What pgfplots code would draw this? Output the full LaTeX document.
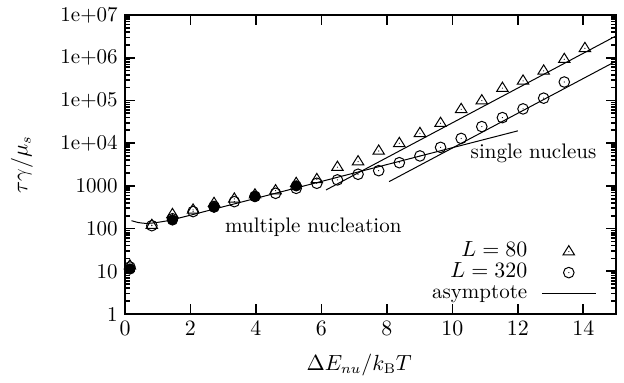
\documentclass[border=0pt]{standalone}
\usepackage{pgfplots}
\pgfplotsset{compat=1.18}
\pgfdeclareplotmark{dtri}{%
  \pgfpathmoveto{\pgfpoint{0pt}{3pt}}%
  \pgfpathlineto{\pgfpoint{2.85pt}{-1.6pt}}%
  \pgfpathlineto{\pgfpoint{-2.85pt}{-1.6pt}}%
  \pgfpathclose
  \pgfusepathqstroke
  \pgfpathcircle{\pgfpointorigin}{0.3pt}%
  \pgfusepathqfill
}
\pgfdeclareplotmark{dcirc}{%
  \pgfpathcircle{\pgfpointorigin}{2.65pt}%
  \pgfusepathqstroke
  \pgfpathcircle{\pgfpointorigin}{0.3pt}%
  \pgfusepathqfill
}
\pgfplotsset{
  markleg/.style={legend image code/.code={\draw[only marks, mark repeat=2, mark phase=2, ##1] plot coordinates {(0pt,0pt) (13.5pt,0pt) (27pt,0pt)};}},
  lineleg/.style={legend image code/.code={\draw[##1] (0pt,0pt) -- (27pt,0pt);}},
}
\begin{document}
\fontsize{10.5}{12.6}\selectfont
\begin{tikzpicture}
\path[use as bounding box] (-62.5pt,-34pt) rectangle (249.5pt,157pt);
\begin{axis}[
  scale only axis, width=245.5pt, height=149.5pt,
  at={(0,0)}, anchor=south west,
  xmin=0, xmax=15, ymode=log, ymin=1, ymax=1e7,
  xtick={0,2,...,14},
  ytick={1,10,100,1000,1e4,1e5,1e6,1e7},
  yticklabels={1,10,100,1000,1e+04,1e+05,1e+06,1e+07},
  tick align=inside, major tick length=5pt, minor tick length=2.5pt,
  axis line style={line width=1pt},
  every tick/.style={black, line width=0.8pt},
  xlabel={$\Delta E_{nu}/k_{\mathrm{B}}T$},
  ylabel={$\tau\gamma/\mu_s$},
  xlabel style={at={(axis description cs:0.477,-0.17)}, anchor=center},
  ylabel style={at={(axis description cs:-0.21,0.5)}, anchor=center},
  legend plot pos=right,
  legend cell align=right,
  legend style={draw=none, fill=none, inner sep=0pt, column sep=7pt,
    at={(axis cs:14.41,52)}, anchor=north east,
    nodes={inner xsep=0pt, inner ysep=0.5pt, text height=7pt, text depth=2.5pt}},
]
% L = 80
\addplot[only marks, mark=dtri, line width=0.5pt, markleg]
coordinates {
(0.15,13.5) (0.82,120) (1.45,215) (2.08,274) (2.72,392) (3.34,495) (3.97,620)
(4.60,775) (5.23,1150) (5.86,1420) (6.49,2740) (7.12,3700) (7.75,6560)
(8.38,9900) (9.01,17000) (9.64,29300) (10.27,62000) (10.90,99000)
(11.53,194000) (12.16,287000) (12.79,492000) (13.42,920000) (14.05,1660000)
};
\addlegendentry{$L=80$}
% L = 320
\addplot[only marks, mark=dcirc, line width=0.5pt, markleg]
coordinates {
(0.15,12.6) (0.82,117) (1.45,170) (2.08,250) (2.72,330) (3.34,427) (3.97,570)
(4.60,670) (5.23,875) (5.86,1150) (6.49,1380) (7.12,1870) (7.75,2270)
(8.38,3490) (9.01,5020) (9.64,7970) (10.27,12900) (10.90,24400)
(11.53,39600) (12.16,63400) (12.79,113000) (13.42,270000)
};
\addlegendentry{$L=320$}
% asymptote L=80
\addplot[black, line width=0.5pt, no marks, lineleg]
coordinates {(6.14,802) (15,3236000)};
\addlegendentry{asymptote}
% asymptote L=320
\addplot[black, line width=0.5pt, no marks, forget plot]
coordinates {(8.07,1259) (15,832000)};
% multiple nucleation
\addplot[black, line width=0.5pt, no marks, smooth, forget plot]
coordinates {(0.2,153) (0.4,139) (0.6,133) (0.8,134) (1.0,140) (1.2,148) (1.4,158) (2.0,206)};
\addplot[black, line width=0.5pt, no marks, forget plot]
coordinates {(2.0,206) (12.0,19400)};
% filled circles
\addplot[only marks, mark=*, mark size=2.6pt, black, forget plot]
coordinates {(0.15,11.3) (1.45,159) (2.72,316) (3.97,560) (5.23,1000)};
\node[anchor=base west, inner sep=0pt] at (axis cs:3.05,78.9) {multiple nucleation};
\node[anchor=base west, inner sep=0pt] at (axis cs:10.55,4430) {single nucleus};
\end{axis}
\end{tikzpicture}
\end{document}
